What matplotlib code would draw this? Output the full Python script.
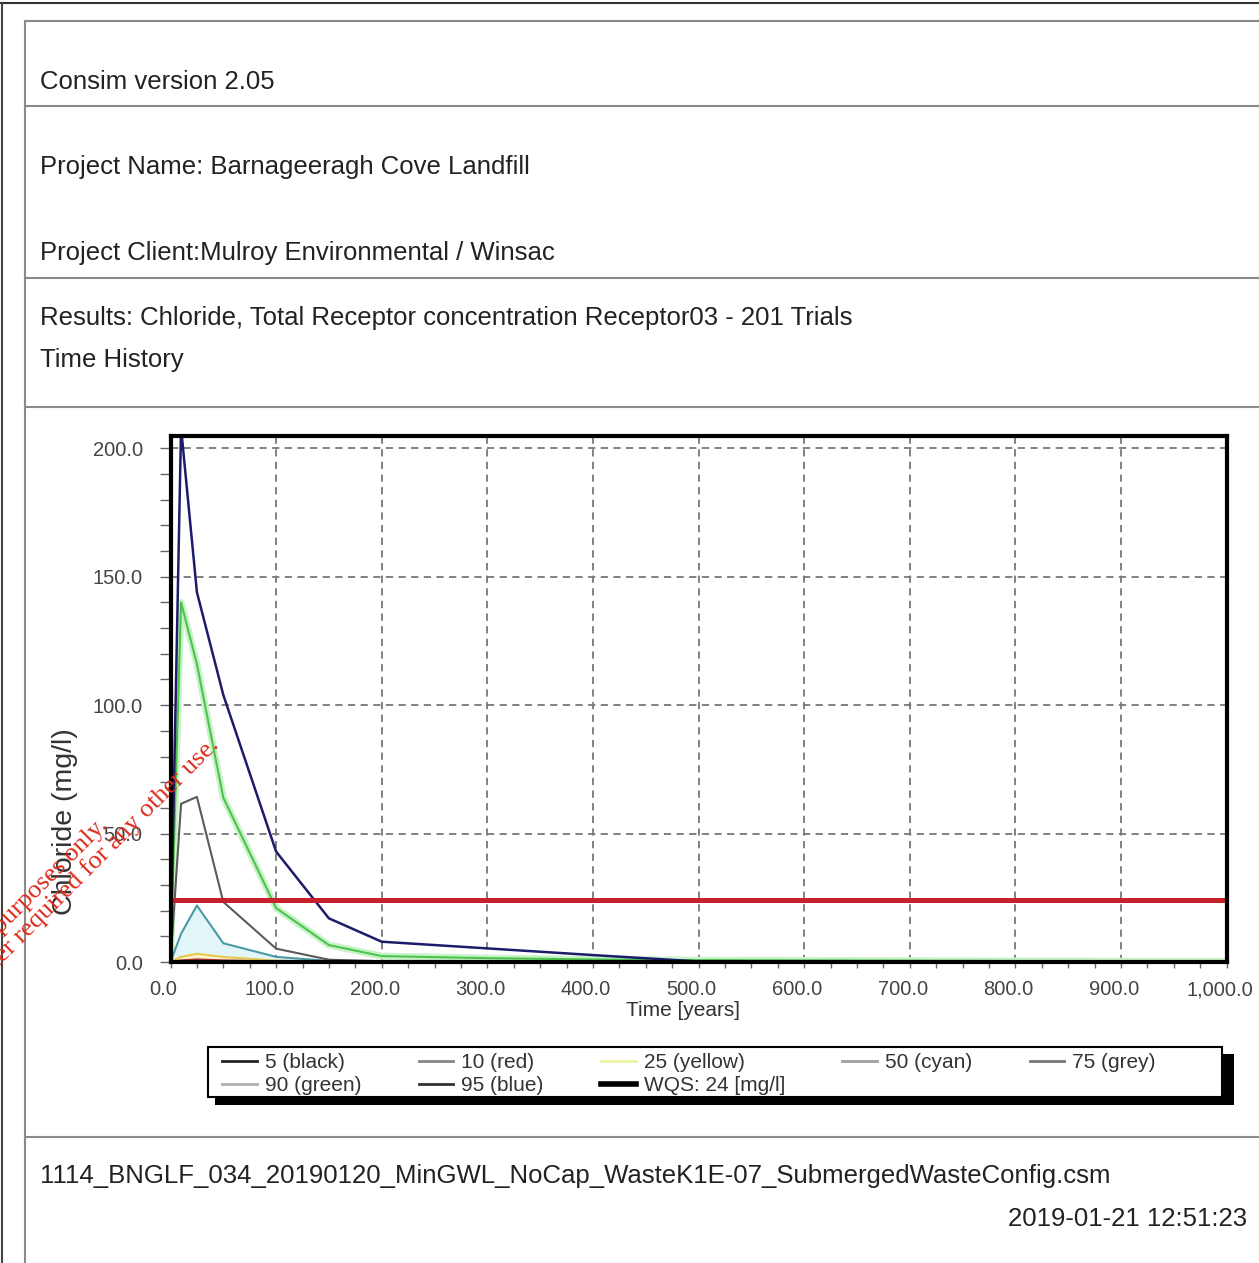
import matplotlib.pyplot as plt
from matplotlib.lines import Line2D
from matplotlib.patches import Rectangle
from matplotlib.ticker import MultipleLocator
import matplotlib.transforms as mtransforms

plt.rcParams['font.family'] = ['Liberation Sans', 'DejaVu Sans']

# percentile time histories, Chloride (mg/l) at Receptor03
time_years = [0, 10, 25, 50, 100, 150, 200, 300, 400, 500, 800, 1000]
p5_black = [0, 0.3, 0.5, 0.3, 0.1, 0, 0, 0, 0, 0, 0, 0]
p10_red = [0, 0.6, 1.0, 0.6, 0.2, 0.05, 0, 0, 0, 0, 0, 0]
p25_yellow = [0, 2.0, 3.2, 2.0, 0.5, 0.1, 0, 0, 0, 0, 0, 0]
p50_cyan = [0, 11, 22, 7.3, 2.0, 0.4, 0.1, 0, 0, 0, 0, 0]
p75_grey = [0, 61.6, 64.3, 23.4, 5.2, 0.9, 0.3, 0.1, 0, 0, 0, 0]
p90_green = [0, 140, 116, 64, 21, 6.6, 2.3, 1.5, 1.0, 0.7, 0.4, 0.2]
p95_blue = [0, 208, 144, 104, 43, 17, 7.9, 5.3, 2.7, 0.2, 0.1, 0.1]
wqs_limit = 24

x_ticks = [0, 100, 200, 300, 400, 500, 600, 700, 800, 900, 1000]
x_tick_labels = ['0.0', '100.0', '200.0', '300.0', '400.0', '500.0',
                 '600.0', '700.0', '800.0', '900.0', '1,000.0']
y_ticks = [0, 50, 100, 150, 200]
y_tick_labels = ['0.0', '50.0', '100.0', '150.0', '200.0']

legend_labels = ['5 (black)', '90 (green)', '10 (red)', '95 (blue)',
                 '25 (yellow)', 'WQS: 24 [mg/l]', '50 (cyan)', '75 (grey)']
legend_colors = ['#222222', '#b0b0b0', '#858585', '#303030',
                 '#eef3a8', '#000000', '#a0a0a0', '#777777']

W, H = 1259, 1263


def fx(x):
    return x / W


def fy(y):
    return 1 - y / H


fig = plt.figure(figsize=(W / 100, H / 100), dpi=100)

# page frame and report boxes
fig.add_artist(Line2D([0, 1], [fy(3), fy(3)], color='#333333', lw=1.5))
fig.add_artist(Line2D([fx(2), fx(2)], [0, fy(3)], color='#444444', lw=1.5))
fig.add_artist(Line2D([fx(25), fx(25)], [0, fy(21)], color='#8a8a8a', lw=1.5))
for yy in [21, 106, 278, 407, 1137]:
    fig.add_artist(Line2D([fx(25), 1], [fy(yy), fy(yy)], color='#8a8a8a', lw=1.5))

hdr = dict(fontsize=18.5, color='#222222', va='center', ha='left')
fig.text(fx(40), fy(82), 'Consim version 2.05', **hdr)
fig.text(fx(40), fy(167), 'Project Name: Barnageeragh Cove Landfill', **hdr)
fig.text(fx(40), fy(253), 'Project Client:Mulroy Environmental / Winsac', **hdr)
fig.text(fx(40), fy(318), 'Results: Chloride, Total Receptor concentration Receptor03 - 201 Trials', **hdr)
fig.text(fx(40), fy(360), 'Time History', **hdr)
fig.text(fx(40), fy(1176), '1114_BNGLF_034_20190120_MinGWL_NoCap_WasteK1E-07_SubmergedWasteConfig.csm', **hdr)
fig.text(fx(1247), fy(1219), '2019-01-21 12:51:23', fontsize=18.5, color='#222222',
         va='center', ha='right')

# chart
ax = fig.add_axes([fx(170.5), fy(962), fx(1226.5) - fx(170.5), fy(435.5) - fy(962)])
ax.fill_between(time_years, p50_cyan, color='#e2f6fa', lw=0, zorder=1)
ax.fill_between(time_years, p25_yellow, color='#fbf3c8', lw=0, zorder=1)
ax.plot(time_years, p90_green, color='#c8f2c8', lw=5, zorder=2, solid_joinstyle='round')
ax.plot(time_years, p5_black, color='#000000', lw=1.5, zorder=3)
ax.plot(time_years, p10_red, color='#a83030', lw=1.5, zorder=3)
ax.plot(time_years, p25_yellow, color='#e8c850', lw=1.5, zorder=3)
ax.plot(time_years, p50_cyan, color='#4a9aa5', lw=1.5, zorder=3)
ax.plot(time_years, p75_grey, color='#5a5a5a', lw=1.5, zorder=3)
ax.plot(time_years, p90_green, color='#4cc44c', lw=1.5, zorder=3)
ax.plot(time_years, p95_blue, color='#1c1c6b', lw=1.8, zorder=3)
ax.axhline(wqs_limit, color='#c8202a', lw=3.6, zorder=4)

ax.set_xlim(0, 1000)
ax.set_ylim(0, 205)
ax.set_xticks(x_ticks)
ax.set_xticklabels(x_tick_labels)
ax.set_yticks(y_ticks)
ax.set_yticklabels(y_tick_labels)
ax.xaxis.set_minor_locator(MultipleLocator(25))
ax.yaxis.set_minor_locator(MultipleLocator(10))
ax.tick_params(axis='x', which='both', direction='out', length=4, width=1,
               color='#666666', labelsize=14.5, labelcolor='#444444', pad=9)
ax.tick_params(axis='y', which='both', direction='out', length=8, width=1,
               color='#666666', labelsize=14.5, labelcolor='#444444', pad=12)
ax.grid(True, which='major', color='#777777', lw=1.3, linestyle=(0, (4, 3)))
ax.set_axisbelow(True)
for s in ax.spines.values():
    s.set_linewidth(3)
    s.set_color('black')
    s.set_zorder(6)

offset = mtransforms.ScaledTranslation(-5 / 72, 0, fig.dpi_scale_trans)
for lbl in ax.get_xticklabels():
    lbl.set_transform(lbl.get_transform() + offset)

ax.set_xlabel('Time [years]', fontsize=15, color='#333333', va='center')
ax.xaxis.set_label_coords((683 - 170.5) / 1056, (962 - 1010) / 526.5)
ax.set_ylabel('Chloride (mg/l)', fontsize=20.5, color='#333333', va='center')
ax.yaxis.set_label_coords((65 - 170.5) / 1056, (962 - 822) / 526.5)

# legend box with drop shadow
fig.add_artist(Rectangle((fx(215), fy(1105)), fx(1234) - fx(215), (1105 - 1054) / H,
                         transform=fig.transFigure, facecolor='black', edgecolor='none', zorder=1))
fig.add_artist(Rectangle((fx(208), fy(1097)), fx(1222) - fx(208), (1097 - 1047) / H,
                         transform=fig.transFigure, facecolor='white', edgecolor='black',
                         lw=1.5, zorder=2))
handles = [Line2D([], [], color=c, lw=(4 if lab.startswith('WQS') else 2))
           for c, lab in zip(legend_colors, legend_labels)]
leg = fig.legend(handles, legend_labels, loc='upper left', bbox_to_anchor=(fx(222), fy(1053)),
                 ncol=5, frameon=False, fontsize=15, handlelength=1.67, handletextpad=0.38,
                 columnspacing=2.75, labelspacing=0.2, borderpad=0, borderaxespad=0)
for t in leg.get_texts():
    t.set_color('#333333')
leg.set_zorder(5)

# watermark
fig.text(fx(2), fy(940),
         'For inspection purposes only.\nConsent of copyright owner required for any other use.',
         rotation=45, rotation_mode='anchor', ha='center', va='center', multialignment='center',
         family=['Liberation Serif'], fontsize=19, color='#dd2a1a', linespacing=0.95, zorder=10)

fig.savefig('out.png', dpi=100)
